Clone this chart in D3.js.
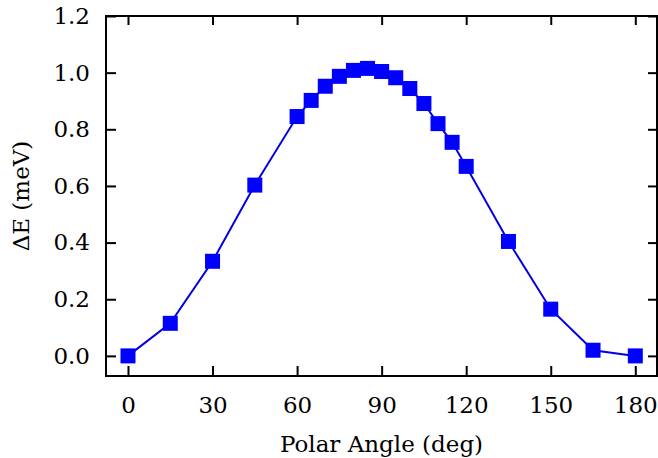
<!DOCTYPE html>
<meta charset="utf-8">
<script src="https://d3js.org/d3.v7.min.js"></script>
<style>
  body { margin: 0; background: #fff; }
  text { font-family: "DejaVu Serif", serif; fill: #000; }
</style>
<body>
<div id="canvas"></div>
<script>
var angles = [0, 15, 30, 45, 60, 65, 70, 75, 80, 85, 90, 95, 100, 105, 110, 115, 120, 135, 150, 165, 180];
var dE = [0.0, 0.115, 0.334, 0.603, 0.845, 0.902, 0.952, 0.987, 1.008, 1.015, 1.004, 0.982, 0.944, 0.891, 0.82, 0.754, 0.669, 0.404, 0.165, 0.02, 0.0];
var xTicks = [0, 30, 60, 90, 120, 150, 180];
var yTicks = [0.0, 0.2, 0.4, 0.6, 0.8, 1.0, 1.2];

var width = 658, height = 458;
var margin = {top: 16, right: 1, bottom: 82, left: 106};
var w = width - margin.left - margin.right;
var h = height - margin.top - margin.bottom;
var fs = '23px';

var svg = d3.select('#canvas').append('svg')
    .attr('width', width)
    .attr('height', height);

var g = svg.append('g')
    .attr('transform', 'translate(' + margin.left + ',' + margin.top + ')');

var x = d3.scaleLinear().domain([-7.8, 187.7]).range([0, w]);
var y = d3.scaleLinear().domain([-0.071, 1.2]).range([h, 0]);

// ticks pointing inward on all four sides
function styleAxis(sel) {
  sel.select('.domain').remove();
  sel.selectAll('.tick line').attr('stroke', '#000').attr('stroke-width', 2);
  sel.selectAll('.tick text').style('font-size', fs);
}

g.append('g')
  .attr('transform', 'translate(0,' + h + ')')
  .call(d3.axisBottom(x).tickValues(xTicks).tickSize(-10).tickPadding(21).tickFormat(d3.format('d')))
  .call(styleAxis);

g.append('g')
  .call(d3.axisTop(x).tickValues(xTicks).tickSize(-9).tickFormat(''))
  .call(styleAxis);

g.append('g')
  .call(d3.axisLeft(y).tickValues(yTicks).tickSize(-10).tickPadding(16).tickFormat(d3.format('.1f')))
  .call(styleAxis);

g.append('g')
  .attr('transform', 'translate(' + w + ',0)')
  .call(d3.axisRight(y).tickValues(yTicks).tickSize(-9).tickFormat(''))
  .call(styleAxis);

// frame
g.append('rect')
  .attr('x', 0).attr('y', 0)
  .attr('width', w).attr('height', h)
  .attr('fill', 'none')
  .attr('stroke', '#000')
  .attr('stroke-width', 2);

var pts = angles.map(function(a, i) { return [a, dE[i]]; });

var line = d3.line()
  .x(function(d) { return x(d[0]); })
  .y(function(d) { return y(d[1]); });

g.append('path')
  .datum(pts)
  .attr('d', line)
  .attr('fill', 'none')
  .attr('stroke', '#0000e0')
  .attr('stroke-width', 2);

var ms = 15;
g.selectAll('rect.mk')
  .data(pts)
  .enter().append('rect')
  .attr('class', 'mk')
  .attr('x', function(d) { return x(d[0]) - ms / 2; })
  .attr('y', function(d) { return y(d[1]) - ms / 2; })
  .attr('width', ms)
  .attr('height', ms)
  .attr('fill', '#0000ff');

// axis labels
svg.append('text')
  .attr('x', margin.left + w / 2)
  .attr('y', 452)
  .attr('text-anchor', 'middle')
  .style('font-size', fs)
  .text('Polar Angle (deg)');

svg.append('text')
  .attr('transform', 'translate(29,' + (margin.top + h / 2) + ') rotate(-90)')
  .attr('text-anchor', 'middle')
  .style('font-size', fs)
  .text('ΔE (meV)');
</script>
</body>
